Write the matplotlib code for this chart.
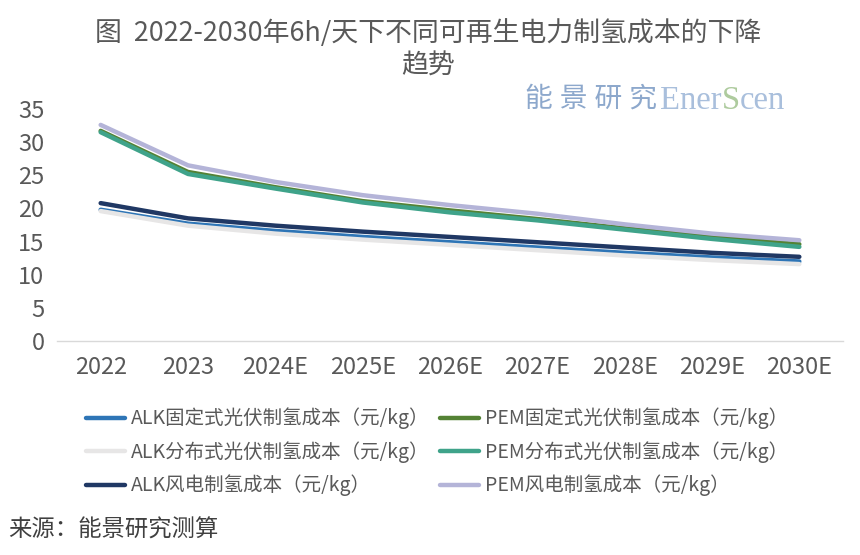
import matplotlib
matplotlib.use("Agg")
import matplotlib.pyplot as plt

plt.rcParams['font.family'] = ['Noto Sans CJK SC', 'DejaVu Sans']

years = ['2022', '2023', '2024E', '2025E', '2026E', '2027E', '2028E', '2029E', '2030E']

alk_fixed_pv = [19.8, 17.7, 16.6, 15.7, 14.9, 14.1, 13.3, 12.6, 12.0]
alk_dist_pv = [19.6, 17.4, 16.2, 15.3, 14.5, 13.7, 12.9, 12.2, 11.6]
alk_wind = [20.8, 18.5, 17.4, 16.5, 15.7, 14.9, 14.1, 13.3, 12.7]
pem_fixed_pv = [31.7, 25.5, 23.2, 21.1, 19.7, 18.4, 17.0, 15.7, 14.6]
pem_dist_pv = [31.5, 25.2, 23.0, 20.9, 19.4, 18.2, 16.8, 15.4, 14.2]
pem_wind = [32.6, 26.5, 24.0, 22.0, 20.5, 19.2, 17.6, 16.2, 15.2]

series = [
    ('ALK固定式光伏制氢成本（元/kg）', alk_fixed_pv, '#2E75B6'),
    ('PEM固定式光伏制氢成本（元/kg）', pem_fixed_pv, '#548235'),
    ('ALK分布式光伏制氢成本（元/kg）', alk_dist_pv, '#E7E6E6'),
    ('PEM分布式光伏制氢成本（元/kg）', pem_dist_pv, '#3FA38A'),
    ('ALK风电制氢成本（元/kg）', alk_wind, '#203864'),
    ('PEM风电制氢成本（元/kg）', pem_wind, '#B4B4D8'),
]

W, H = 860, 555
fig = plt.figure(figsize=(8.6, 5.55), dpi=100)
ax = fig.add_axes([57 / W, 1 - 341 / H, (843 - 57) / W, (341 - 109) / H])

handles = {}
for label, vals, color in series:
    ln, = ax.plot(range(len(years)), vals, color=color, lw=3.2,
                  solid_capstyle='round', label=label)
    handles[label] = ln

ax.set_xlim(-0.5, len(years) - 0.5)
ax.set_ylim(0, 35)
ax.set_yticks(range(0, 36, 5))
ax.set_xticks(range(len(years)))
ax.set_xticklabels(years)
ax.tick_params(axis='both', length=0, labelsize=17, colors='#595959')
ax.tick_params(axis='x', pad=11)
ax.tick_params(axis='y', pad=9)
for s in ['top', 'right', 'left']:
    ax.spines[s].set_visible(False)
ax.spines['bottom'].set_color('#D9D9D9')
ax.spines['bottom'].set_linewidth(1)

fig.text(428 / W, 1 - 33 / H, '图  2022-2030年6h/天下不同可再生电力制氢成本的下降',
         ha='center', va='center', fontsize=19.4, color='#595959')
fig.text(428 / W, 1 - 66 / H, '趋势', ha='center', va='center',
         fontsize=19.4, color='#595959')

# legend: matplotlib fills columns first, so pass ALK column then PEM column
order = [0, 2, 4, 1, 3, 5]
leg = fig.legend([handles[series[i][0]] for i in order],
                 [series[i][0] for i in order],
                 loc='center left', bbox_to_anchor=(86 / W, 1 - 452 / H),
                 ncol=2, frameon=False, fontsize=14, handlelength=2.0,
                 handletextpad=0.3, columnspacing=0.55, labelspacing=0.6,
                 borderaxespad=0, borderpad=0)
for t in leg.get_texts():
    t.set_color('#595959')

fig.text(8 / W, 1 - 530 / H, '来源：能景研究测算', ha='left', va='center',
         fontsize=16.8, color='#404040')

# watermark, drawn piece by piece so the "S" can be green
fig.canvas.draw()
r = fig.canvas.get_renderer()
wm_y = 1 - 97 / H
x = 525 / W
pieces = [('能 景 研 究', '#8DA8CC', 20, 3), ('Ener', '#A9BFDC', 23.5, 0),
          ('S', '#AECB9E', 23.5, 0), ('cen', '#A9BFDC', 23.5, 0)]
for txt, col, fs, gap in pieces:
    t = fig.text(x, wm_y, txt, ha='left', va='center_baseline', fontsize=fs, color=col,
                 family=['Liberation Serif', 'Noto Sans CJK SC'])
    bb = t.get_window_extent(renderer=r)
    x += (bb.width + gap) / W

fig.savefig('out.png', dpi=100)
